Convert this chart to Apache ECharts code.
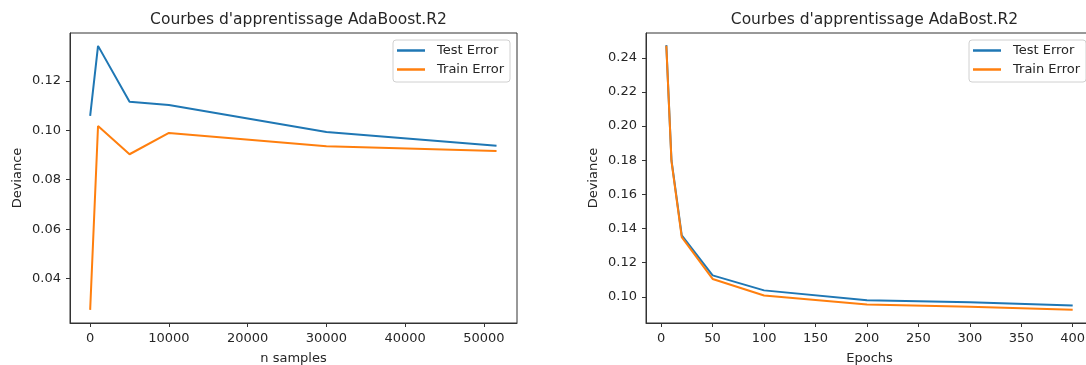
<!DOCTYPE html>
<html>
<head>
<meta charset="utf-8">
<script src="https://cdn.jsdelivr.net/npm/echarts@6/dist/echarts.min.js"></script>
<style>
html,body{margin:0;padding:0;background:#fff;}
#c{width:1086px;height:365px;}
</style>
</head>
<body>
<div id="c"></div>
<script>
// Left chart: learning curve vs number of samples
const samplesX = [0, 1000, 5000, 10000, 30000, 51600];
const samplesTest = [0.1058, 0.1341, 0.1115, 0.1102, 0.0993, 0.0937];
const samplesTrain = [0.0274, 0.1017, 0.0903, 0.0989, 0.0935, 0.0916];
const samplesXTicks = [0, 10000, 20000, 30000, 40000, 50000];
const samplesYTicks = [0.04, 0.06, 0.08, 0.10, 0.12];

// Right chart: learning curve vs epochs
const epochsX = [5, 10, 20, 50, 100, 200, 300, 400];
const epochsTest = [0.2474, 0.1800, 0.1360, 0.1126, 0.1038, 0.0980, 0.0968, 0.0950];
const epochsTrain = [0.2470, 0.1795, 0.1350, 0.1105, 0.1008, 0.0955, 0.0942, 0.0925];
const epochsXTicks = [0, 50, 100, 150, 200, 250, 300, 350, 400];
const epochsYTicks = [0.10, 0.12, 0.14, 0.16, 0.18, 0.20, 0.22, 0.24];

const titles = ["Courbes d'apprentissage AdaBoost.R2", "Courbes d'apprentissage AdaBost.R2"];
const seriesNames = ['Test Error', 'Train Error'];

const FONT = 'DejaVu Sans';
const TXT = '#262626';
const AX = '#333';
const BLUE = '#1f77b4', ORANGE = '#ff7f0e';

function pairs(xs, ys){ return xs.map((x,i)=>[x, ys[i]]); }

function xAxis(idx, min, max, ticks, name){
  return {
    type:'value', gridIndex:idx, min:min, max:max,
    name:name, nameLocation:'middle', nameGap:29,
    nameTextStyle:{fontFamily:FONT, fontSize:13, color:TXT},
    axisLine:{show:true, onZero:false, lineStyle:{color:AX, width:1}},
    axisTick:{show:true, inside:false, length:4, customValues:ticks, lineStyle:{color:AX, width:1}},
    axisLabel:{show:true, customValues:ticks, margin:9, fontFamily:FONT, fontSize:13, color:TXT,
      formatter:(v)=>String(Math.round(v))},
    splitLine:{show:false}
  };
}
function yAxis(idx, min, max, ticks, name){
  return {
    type:'value', gridIndex:idx, min:min, max:max,
    name:name, nameLocation:'middle', nameGap:46, nameRotate:90,
    nameTextStyle:{fontFamily:FONT, fontSize:13, color:TXT},
    axisLine:{show:true, onZero:false, lineStyle:{color:AX, width:1}},
    axisTick:{show:true, inside:false, length:4, customValues:ticks, lineStyle:{color:AX, width:1}},
    axisLabel:{show:true, customValues:ticks, margin:9, fontFamily:FONT, fontSize:13, color:TXT,
      formatter:(v)=>v.toFixed(2)},
    splitLine:{show:false}
  };
}
function legend(left){
  return {
    left:left, top:40, orient:'vertical',
    data:seriesNames,
    icon:'rect', itemWidth:28, itemHeight:2.5, itemGap:4,
    padding:[3,6,5,4],
    borderColor:'#d0d0d0', borderWidth:1, borderRadius:3, backgroundColor:'#fff',
    textStyle:{fontFamily:FONT, fontSize:13, color:TXT, lineHeight:15, padding:[0,0,0,7]},
    selectedMode:false
  };
}
function line(name, color, xi, data){
  return {
    type:'line', name:name, xAxisIndex:xi, yAxisIndex:xi, data:data,
    showSymbol:false, symbol:'none', smooth:false, animation:false,
    lineStyle:{color:color, width:2}, itemStyle:{color:color}
  };
}

const chart = echarts.init(document.getElementById('c'), null, {renderer:'canvas'});
chart.setOption({
  backgroundColor:'#fff',
  animation:false,
  title:[
    {text:titles[0], left:293.5, top:7, textAlign:'center',
     textStyle:{fontFamily:FONT, fontSize:15.5, fontWeight:'normal', color:TXT}},
    {text:titles[1], left:869.5, top:7, textAlign:'center',
     textStyle:{fontFamily:FONT, fontSize:15.5, fontWeight:'normal', color:TXT}}
  ],
  grid:[
    {left:70, top:33, width:447, height:290, show:true, borderColor:AX, borderWidth:1, backgroundColor:'#fff',
     containLabel:false, outerBoundsMode:'none'},
    {left:646, top:33, width:447, height:290, show:true, borderColor:AX, borderWidth:1, backgroundColor:'#fff',
     containLabel:false, outerBoundsMode:'none'}
  ],
  legend:[legend(393), legend(969)],
  xAxis:[
    xAxis(0, -2560, 54200, samplesXTicks, 'n samples'),
    xAxis(1, -14.75, 419.75, epochsXTicks, 'Epochs')
  ],
  yAxis:[
    yAxis(0, 0.0221, 0.1393, samplesYTicks, 'Deviance'),
    yAxis(1, 0.0847, 0.2545, epochsYTicks, 'Deviance')
  ],
  series:[
    line(seriesNames[0], BLUE, 0, pairs(samplesX, samplesTest)),
    line(seriesNames[1], ORANGE, 0, pairs(samplesX, samplesTrain)),
    line(seriesNames[0], BLUE, 1, pairs(epochsX, epochsTest)),
    line(seriesNames[1], ORANGE, 1, pairs(epochsX, epochsTrain))
  ]
});
</script>
</body>
</html>
